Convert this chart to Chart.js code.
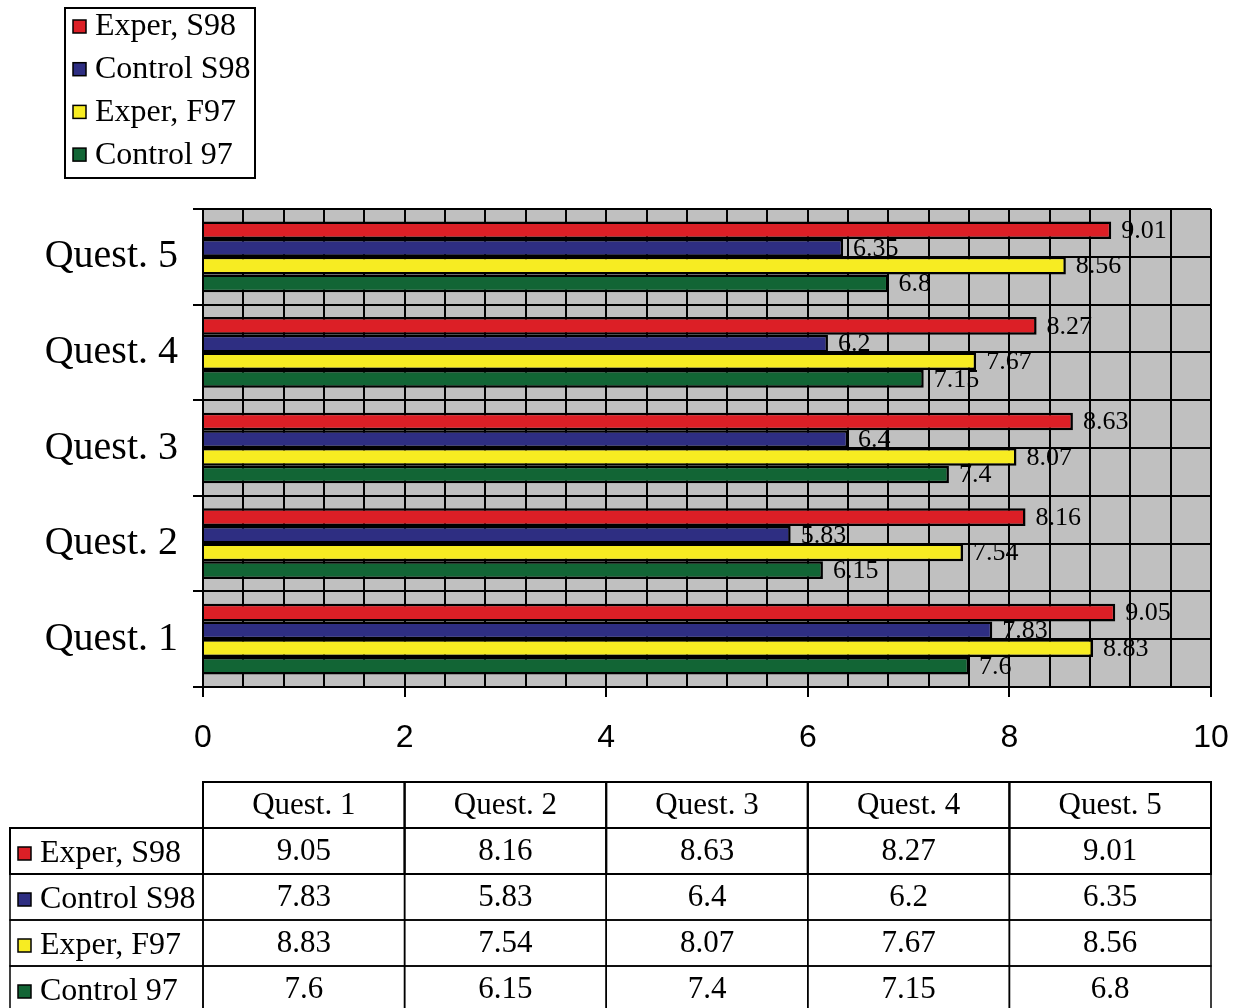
<!DOCTYPE html>
<html>
<head>
<meta charset="utf-8">
<script src="https://cdn.jsdelivr.net/npm/chart.js@4"></script>
<style>
  html, body { margin: 0; padding: 0; background: #fff; }
</style>
</head>
<body>
<canvas id="quest" width="1240" height="1008"></canvas>
<script>
const questions = ["Quest. 1", "Quest. 2", "Quest. 3", "Quest. 4", "Quest. 5"];
const seriesNames = ["Exper, S98", "Control S98", "Exper, F97", "Control 97"];
const experS98 = [9.05, 8.16, 8.63, 8.27, 9.01];
const controlS98 = [7.83, 5.83, 6.4, 6.2, 6.35];
const experF97 = [8.83, 7.54, 8.07, 7.67, 8.56];
const control97 = [7.6, 6.15, 7.4, 7.15, 6.8];
const xTicks = [0, 2, 4, 6, 8, 10];

const colors = ["#dc1f26", "#2e2e82", "#f7ec22", "#126535"];
const serif = "'Liberation Serif', 'Times New Roman', serif";

const canvas = document.getElementById("quest");
const ctx = canvas.getContext("2d");

// grey plot background
const plotBg = {
  id: "plotBg",
  beforeDraw(chart) {
    const a = chart.chartArea;
    chart.ctx.save();
    chart.ctx.fillStyle = "#c0c0c0";
    chart.ctx.fillRect(a.left, a.top, a.right - a.left, a.bottom - a.top);
    chart.ctx.restore();
  }
};

// numbers at the end of each bar
const valueLabels = {
  id: "valueLabels",
  afterDatasetsDraw(chart) {
    const c = chart.ctx;
    c.save();
    c.font = "26px " + serif;
    c.fillStyle = "#000";
    c.textBaseline = "middle";
    chart.data.datasets.forEach((ds, i) => {
      chart.getDatasetMeta(i).data.forEach((bar, j) => {
        c.fillText(String(ds.data[j]), bar.x + 10, bar.y + 1);
      });
    });
    c.restore();
  }
};

function marker(c, x, y, color) {
  c.fillStyle = color;
  c.fillRect(x, y - 6, 13, 13);
  c.lineWidth = 1.5;
  c.strokeStyle = "#000";
  c.strokeRect(x, y - 6, 13, 13);
}

// boxed legend, top left
const boxLegend = {
  id: "boxLegend",
  afterDraw(chart) {
    const c = chart.ctx;
    c.save();
    c.lineWidth = 2;
    c.strokeStyle = "#000";
    c.strokeRect(65, 8, 190, 170);
    c.font = "32px " + serif;
    c.textBaseline = "middle";
    chart.data.datasets.forEach((ds, i) => {
      const y = 26 + i * 42.7;
      marker(c, 73, y, ds.backgroundColor);
      c.fillStyle = "#000";
      c.fillText(ds.label, 95, y + 1);
    });
    c.restore();
  }
};

// data table under the axis, columns follow the x scale
const dataTable = {
  id: "dataTable",
  afterDraw(chart) {
    const c = chart.ctx;
    const cols = xTicks.map(v => chart.scales.x.getPixelForValue(v));
    const top = 782, rowH = 46, left = 10;
    c.save();
    c.strokeStyle = "#000";
    c.lineWidth = 2;
    c.textBaseline = "middle";
    c.fillStyle = "#000";
    c.font = "31px " + serif;
    c.textAlign = "center";
    questions.forEach((q, k) => {
      c.strokeRect(cols[k], top, cols[k + 1] - cols[k], rowH);
      c.fillText(q, (cols[k] + cols[k + 1]) / 2, top + rowH / 2 + 1);
    });
    chart.data.datasets.forEach((ds, r) => {
      const y = top + rowH * (r + 1);
      c.strokeRect(left, y, cols[0] - left, rowH);
      c.font = "31px " + serif;
      c.textAlign = "center";
      ds.data.forEach((v, k) => {
        c.strokeRect(cols[k], y, cols[k + 1] - cols[k], rowH);
        c.fillStyle = "#000";
        c.fillText(String(v), (cols[k] + cols[k + 1]) / 2, y + rowH / 2 + 1);
      });
      marker(c, 18, y + rowH / 2 + 2, ds.backgroundColor);
      c.fillStyle = "#000";
      c.font = "32px " + serif;
      c.textAlign = "left";
      c.fillText(ds.label, 40, y + rowH / 2 + 3);
    });
    c.restore();
  }
};

const isMajor = v => Math.abs(v / 2 - Math.round(v / 2)) < 1e-6;

const myChart = new Chart(ctx, {
  type: "bar",
  data: {
    labels: questions,
    datasets: [experS98, controlS98, experF97, control97].map((d, i) => ({
      label: seriesNames[i],
      data: d,
      backgroundColor: colors[i],
      borderColor: "#000",
      borderWidth: 2.5,
      categoryPercentage: 0.74,
      barPercentage: 1.0
    }))
  },
  options: {
    indexAxis: "y",
    responsive: false,
    animation: false,
    layout: { padding: { top: 209, right: 29, bottom: 241, left: 0 } },
    plugins: { legend: { display: false }, tooltip: { enabled: false } },
    scales: {
      x: {
        min: 0,
        max: 10,
        afterFit: s => { s.height = 80; s.paddingLeft = 0; s.paddingRight = 0; },
        ticks: {
          stepSize: 0.4,
          autoSkip: false,
          maxRotation: 0,
          padding: 22,
          color: "#000",
          font: { family: "'Liberation Sans', Arial, sans-serif", size: 32 },
          callback: v => (isMajor(v) ? String(Math.round(v)) : "")
        },
        grid: {
          color: "#000",
          lineWidth: 2,
          tickLength: 10,
          tickColor: c => (c.tick && isMajor(c.tick.value) ? "#000" : "rgba(0,0,0,0)")
        },
        border: { color: "#000", width: 2 }
      },
      y: {
        reverse: true,
        afterFit: s => { s.width = 203; },
        ticks: {
          padding: 15,
          color: "#000",
          font: { family: serif, size: 40 }
        },
        grid: { offset: true, color: "#000", lineWidth: 2, tickLength: 10 },
        border: { color: "#000", width: 2 }
      },
      yHalf: {
        type: "linear",
        position: "right",
        offset: false,
        min: 0,
        max: 10,
        afterFit: s => { s.width = 0; },
        ticks: { stepSize: 1, display: false },
        grid: { offset: false, color: "#000", lineWidth: 2, drawTicks: false },
        border: { display: false }
      }
    }
  },
  plugins: [plotBg, valueLabels, boxLegend, dataTable]
});
</script>
</body>
</html>
